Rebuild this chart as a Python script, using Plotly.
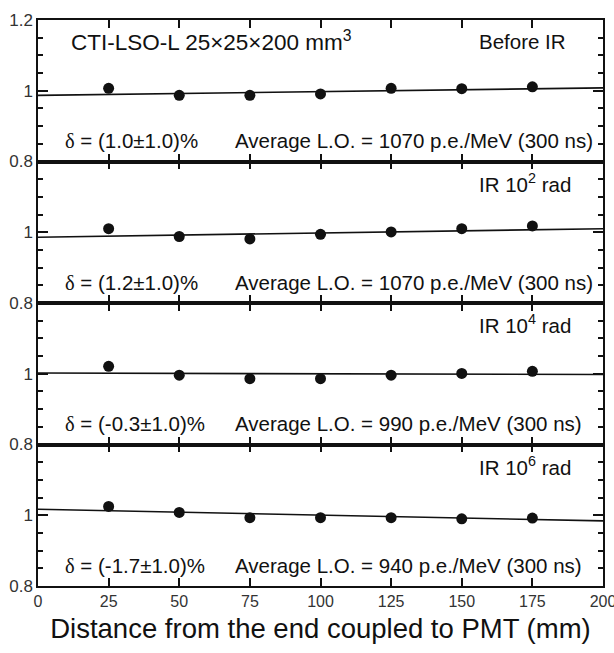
import plotly.graph_objects as go
from plotly.subplots import make_subplots

# Position along the crystal (mm from the PMT-coupled end)
distance_mm = [25, 50, 75, 100, 125, 150, 175]

# Normalised light output per irradiation step
lo_before = [1.007, 0.987, 0.987, 0.991, 1.007, 1.006, 1.011]
lo_1e2 = [1.010, 0.988, 0.981, 0.994, 1.001, 1.010, 1.018]
lo_1e4 = [1.021, 0.996, 0.986, 0.986, 0.996, 1.001, 1.007]
lo_1e6 = [1.025, 1.008, 0.993, 0.993, 0.993, 0.990, 0.992]

# Linear fit evaluated at both ends of the crystal
fit_x = [0, 200]
fit_before = [0.987, 1.008]
fit_1e2 = [0.986, 1.010]
fit_1e4 = [1.002, 0.998]
fit_1e6 = [1.017, 0.984]

# Panel texts
dose_labels = ["Before IR", "IR 10<sup>2</sup> rad", "IR 10<sup>4</sup> rad", "IR 10<sup>6</sup> rad"]
delta_values = ["1.0", "1.2", "-0.3", "-1.7"]
avg_lo = ["1070", "1070", "990", "940"]
x_ticks = [0, 25, 50, 75, 100, 125, 150, 175, 200]

series = [lo_before, lo_1e2, lo_1e4, lo_1e6]
fits = [fit_before, fit_1e2, fit_1e4, fit_1e6]

fig = make_subplots(rows=4, cols=1, shared_xaxes=True, vertical_spacing=0)

SANS = "Liberation Sans, Arial, sans-serif"
INK = "#111111"

for i in range(4):
    row = i + 1
    fig.add_trace(go.Scatter(x=fit_x, y=fits[i], mode="lines",
                             line=dict(color=INK, width=1.6),
                             showlegend=False, hoverinfo="skip"), row=row, col=1)
    fig.add_trace(go.Scatter(x=distance_mm, y=series[i], mode="markers",
                             marker=dict(color=INK, size=11),
                             showlegend=False), row=row, col=1)

    xr = "x" if row == 1 else f"x{row}"
    yr = "y" if row == 1 else f"y{row}"
    fig.add_annotation(x=155.4, y=1.14, xref=xr, yref=yr, xanchor="left", yanchor="middle",
                       text=dose_labels[i], showarrow=False,
                       font=dict(family=SANS, size=20.5, color=INK))
    fig.add_annotation(x=9.0, y=0.858, xref=xr, yref=yr, xanchor="left", yanchor="middle",
                       text=("<span style=\"font-family:'Liberation Serif', serif\">δ</span>"
                             f" = ({delta_values[i]}±1.0)%"),
                       showarrow=False, font=dict(family=SANS, size=20.5, color=INK))
    fig.add_annotation(x=69.0, y=0.858, xref=xr, yref=yr, xanchor="left", yanchor="middle",
                       text=f"Average L.O. = {avg_lo[i]} p.e./MeV (300 ns)",
                       showarrow=False, font=dict(family=SANS, size=20.5, color=INK))

    fig.update_yaxes(
        range=[0.8, 1.2], tickvals=[0.8, 1.0, 1.2],
        ticktext=["0.8", "1", "1.2" if row == 1 else ""],
        ticks="inside", ticklen=10, tickwidth=1.5, tickcolor=INK,
        minor=dict(dtick=0.05, tick0=0.8, ticks="inside", ticklen=5,
                   tickwidth=1.5, tickcolor=INK),
        showline=True, linecolor=INK, linewidth=1.5, mirror="ticks",
        showgrid=False, zeroline=False,
        tickfont=dict(family=SANS, size=17, color="#333333"),
        row=row, col=1)
    fig.update_xaxes(
        range=[0, 200], tickvals=x_ticks,
        ticks="inside", ticklen=8, tickwidth=1.5, tickcolor=INK,
        showline=True, linecolor=INK, linewidth=1.5, mirror="ticks",
        showgrid=False, zeroline=False, ticklabeloverflow="allow",
        tickfont=dict(family=SANS, size=16, color="#333333"),
        row=row, col=1)

fig.add_annotation(x=11.0, y=1.14, xref="x", yref="y", xanchor="left", yanchor="middle",
                   text="CTI-LSO-L 25×25×200 mm<sup>3</sup>", showarrow=False,
                   font=dict(family=SANS, size=22.5, color=INK))

fig.update_xaxes(title=dict(text="Distance from the end coupled to PMT (mm)",
                            font=dict(family=SANS, size=27.5, color=INK), standoff=10),
                 row=4, col=1)

fig.update_layout(
    width=614, height=653,
    margin=dict(l=38, r=11, t=20, b=67, autoexpand=False),
    paper_bgcolor="white", plot_bgcolor="white",
    font=dict(family=SANS, color=INK),
)

fig.write_html("out.html")
